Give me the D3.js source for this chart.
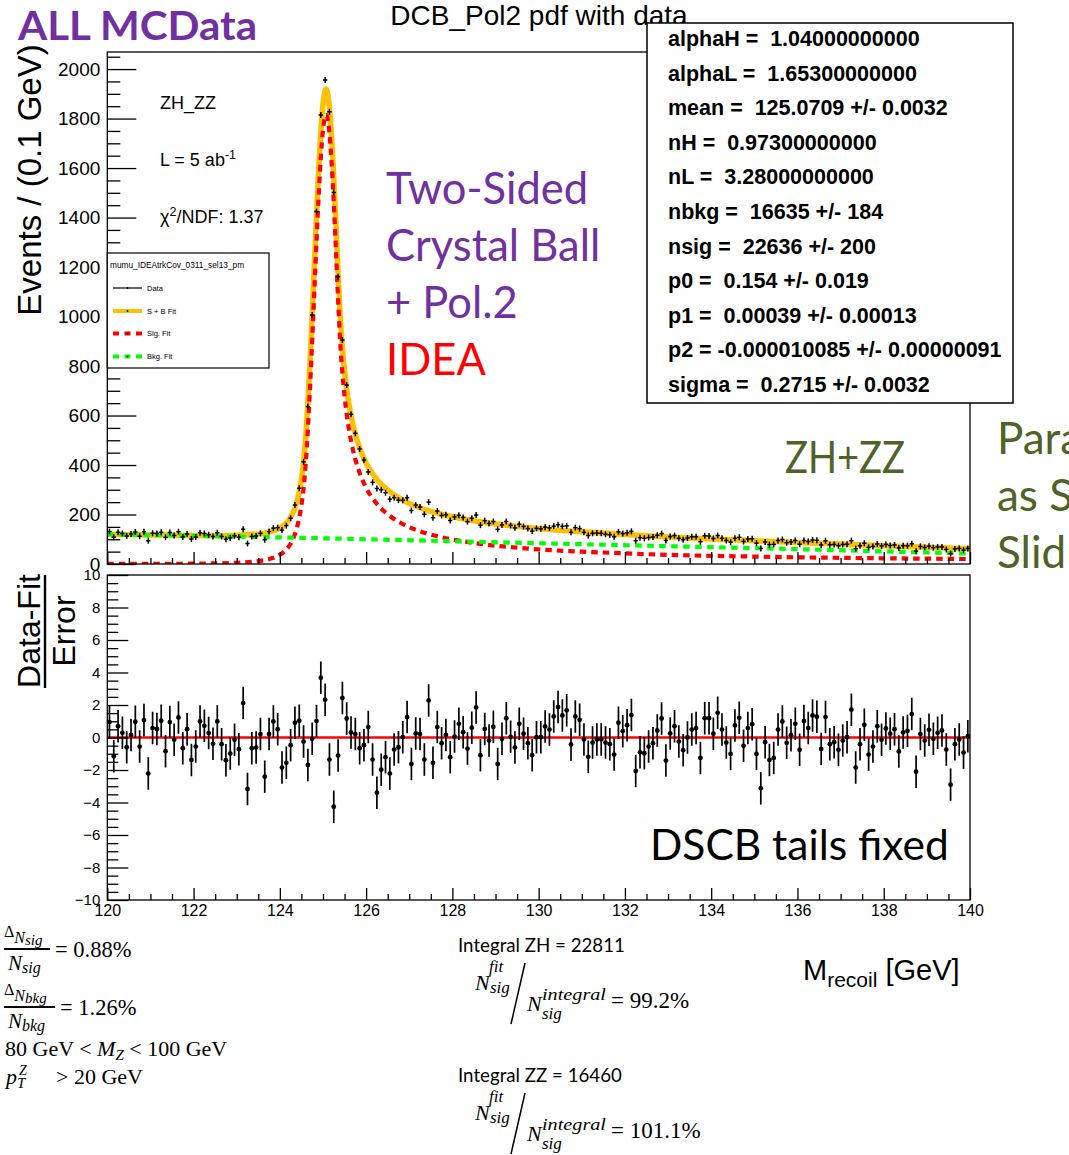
<!DOCTYPE html>
<html>
<head>
<meta charset="utf-8">
<script src="https://cdn.jsdelivr.net/npm/d3@7"></script>
<style>
  body { margin: 0; background: #fff; }
  svg { display: block; }
  text { white-space: pre; }
</style>
</head>
<body>
<svg id="chart" width="1069" height="1155"></svg>
<script>
// ---- binning of the recoil-mass histogram (0.1 GeV bins, 120-140 GeV) ----
const massRange = [120, 140];
const binWidth = 0.1;

// events per bin (bin 120.0-120.1 first)
const counts = [
  131,108,128,123,113,121,129,112,130,94,
  124,123,128,108,127,115,130,109,121,101,
  109,126,123,118,111,126,111,100,105,114,
  108,140,83,111,113,124,98,131,145,147,
  137,155,185,238,306,413,636,1006,1424,1814,
  1956,1828,1501,1161,905,723,605,528,465,420,
  372,330,305,300,288,262,268,258,258,268,
  216,238,230,201,250,187,214,196,199,176,
  190,197,188,171,185,198,157,175,164,172,
  140,158,172,156,146,161,152,143,133,144,
  142,149,146,153,159,152,154,128,147,143,
  128,115,124,125,124,120,118,110,130,123,
  126,132,94,106,104,107,109,116,123,95,
  111,115,104,98,105,110,110,90,114,113,
  103,115,104,95,88,104,108,91,101,102,
  84,63,89,78,79,95,99,86,89,95,
  80,95,91,97,96,77,94,78,79,74,
  79,80,94,62,74,84,67,71,81,73,
  79,75,77,65,74,74,82,52,71,67,
  72,66,69,69,59,42,61,63,56,63
];

// (data - fit) / error per bin
const pulls = [
  0.95,-1.15,0.70,0.29,-0.60,0.16,0.97,-0.56,1.07,-2.22,
  0.58,0.53,1.03,-0.84,0.95,-0.14,1.23,-0.66,0.51,-1.38,
  -0.56,0.99,0.72,0.27,-0.39,0.99,-0.41,-1.40,-0.99,-0.14,
  -0.72,2.12,-3.17,-0.66,-0.62,0.21,-2.41,0.21,0.99,0.51,
  -1.85,-1.56,-0.47,0.91,1.03,-0.25,-1.69,-0.08,1.01,3.68,
  2.33,-1.36,-4.26,-1.11,2.43,1.17,0.31,0.21,-0.66,-0.47,
  0.64,-1.36,-3.40,-1.98,-1.21,-2.22,-0.74,-0.60,0.02,1.26,
  -1.63,0.25,0.21,-1.36,2.28,-1.56,0.64,-0.35,0.16,-1.21,
  0.06,0.84,0.33,-0.68,0.60,1.85,-1.09,0.53,-0.19,0.66,
  -1.63,-0.08,1.19,0.04,-0.62,0.84,0.23,-0.35,-1.09,0.02,
  0.02,0.68,0.49,1.30,1.87,1.36,1.67,-0.43,1.30,1.09,
  -0.12,-1.19,-0.31,-0.12,-0.12,-0.31,-0.41,-1.05,0.91,0.39,
  0.76,1.38,-2.06,-0.91,-0.97,-0.56,-0.35,0.43,1.17,-1.42,
  0.25,0.70,-0.25,-0.78,0.00,0.49,0.58,-1.26,1.19,1.19,
  0.23,1.52,0.49,-0.31,-1.01,0.74,1.21,-0.51,0.58,0.82,
  -1.01,-3.13,-0.29,-1.38,-1.26,0.49,0.99,-0.33,0.14,0.84,
  -0.76,1.01,0.58,1.36,1.28,-0.70,1.26,-0.41,-0.29,-0.76,
  -0.19,0.02,1.71,-1.85,-0.41,0.78,-1.05,-0.56,0.70,-0.14,
  0.56,0.23,0.51,-0.86,0.31,0.41,1.44,-2.10,0.21,-0.19,
  0.47,-0.08,0.29,0.43,-0.74,-2.90,-0.41,-0.12,-0.93,0.08
];

// fitted model curves, sampled along the mass axis
const fitMass = [120,121,122,122.5,123,123.5,123.75,124,124.1,124.2,124.3,124.35,124.4,124.45,124.5,
  124.55,124.6,124.65,124.7,124.75,124.8,124.85,124.9,124.95,125,125.05,125.07,125.1,125.15,125.2,
  125.25,125.3,125.35,125.4,125.45,125.5,125.55,125.6,125.65,125.75,125.85,126,126.25,126.5,126.75,
  127,127.5,128,128.5,129,129.5,130,131,132,133,134,135,136,137,138,139,140];
const sigFit = [0.3,0.6,1.4,2.5,4.8,11.5,19.7,37,50,69,99,121,149,186,237,
  306,405,545,713,904,1103,1303,1489,1643,1754,1810,1815,1805,1740,1621,
  1461,1272,1071,896,772,678,605,546,498,423,368,308,243,201,171,
  149,119,99,85,74,66,59,50,43,37,33,30,27,25,23,21.5,20];
const totalFit = [120.3,117.6,115.4,114.3,116.6,121.7,129,144.5,157,175.8,205.5,227,255,292,343,
  412,511,651,818,1009,1208,1408,1594,1748,1858,1914,1919,1909,1844,1725,
  1565,1376,1175,999,875,781,707,648,600,525,469,408,342,299,268,
  245,213,191,175,162,152,143,130,119,109,101,94,87,80.5,74,68,62];
const bkgMass = [120,122,124,126,128,130,132,134,136,138,140];
const bkgFit = [120,114,107.5,100,92,84,76,68,60,51,42];

// axis ticks
const topYTicks = [0,200,400,600,800,1000,1200,1400,1600,1800,2000];
const resYTicks = [-10,-8,-6,-4,-2,0,2,4,6,8,10];
const massTicks = [120,122,124,126,128,130,132,134,136,138,140];

// fit parameters box
const paramLines = [
  "alphaH =  1.04000000000",
  "alphaL =  1.65300000000",
  "mean =  125.0709 +/- 0.0032",
  "nH =  0.97300000000",
  "nL =  3.28000000000",
  "nbkg =  16635 +/- 184",
  "nsig =  22636 +/- 200",
  "p0 =  0.154 +/- 0.019",
  "p1 =  0.00039 +/- 0.00013",
  "p2 = -0.000010085 +/- 0.00000091",
  "sigma =  0.2715 +/- 0.0032"
];
const legendEntries = ["Data", "S + B Fit", "Sig. Fit", "Bkg. Fit"];

// ---------------------------------------------------------------------
const svg = d3.select("#chart");
const HELV = "'Liberation Sans', Arial, Helvetica, sans-serif";
const CAL = "Lato, 'Open Sans', sans-serif";
const MATH = "'Liberation Serif', 'DejaVu Serif', serif";

const frame = { left: 107.3, right: 970 };
const topPad = { top: 52, bottom: 564 };
const resPad = { top: 575, bottom: 900 };

const x = d3.scaleLinear().domain(massRange).range([frame.left, frame.right]);
const yTop = d3.scaleLinear().domain([0, 2069]).range([topPad.bottom, topPad.top]);
const yRes = d3.scaleLinear().domain([-10, 10]).range([resPad.bottom, resPad.top]);

const binCenters = counts.map((_, i) => massRange[0] + binWidth * (i + 0.5));

// clip regions
const defs = svg.append("defs");
defs.append("clipPath").attr("id", "clipTop").append("rect")
  .attr("x", frame.left).attr("y", topPad.top)
  .attr("width", frame.right - frame.left).attr("height", topPad.bottom - topPad.top);
defs.append("clipPath").attr("id", "clipRes").append("rect")
  .attr("x", frame.left).attr("y", resPad.top)
  .attr("width", frame.right - frame.left).attr("height", resPad.bottom - resPad.top);

// ---------------- upper pad ----------------
svg.append("text").attr("x", 539).attr("y", 25)
  .attr("text-anchor", "middle").attr("font-family", HELV).attr("font-size", 28)
  .text("DCB_Pol2 pdf with data");

const upper = svg.append("g");
const curves = upper.append("g").attr("clip-path", "url(#clipTop)");
const line = d3.line().x(d => x(d[0])).y(d => yTop(d[1])).curve(d3.curveMonotoneX);

curves.append("path").datum(d3.zip(fitMass, totalFit))
  .attr("d", line).attr("fill", "none").attr("stroke", "#FFC000").attr("stroke-width", 5.5);
curves.append("path").datum(d3.zip(fitMass, sigFit))
  .attr("d", line).attr("fill", "none").attr("stroke", "#FF0000").attr("stroke-width", 4.2)
  .attr("stroke-dasharray", "6.5,5");
curves.append("path").datum(d3.zip(bkgMass, bkgFit))
  .attr("d", line.curve(d3.curveNatural)).attr("fill", "none").attr("stroke", "#00FF00").attr("stroke-width", 4.2)
  .attr("stroke-dasharray", "6.5,5.5");

// data points: cross markers spanning the bin width
const markerHalf = 3;
const pts = curves.append("g").attr("stroke", "#000").attr("stroke-width", 1.5);
pts.selectAll("line.v").data(counts).join("line").attr("class", "v")
  .attr("x1", (d, i) => x(binCenters[i])).attr("x2", (d, i) => x(binCenters[i]))
  .attr("y1", d => yTop(d) - markerHalf).attr("y2", d => yTop(d) + markerHalf);
pts.selectAll("line.h").data(counts).join("line").attr("class", "h")
  .attr("x1", (d, i) => x(binCenters[i] - binWidth / 2)).attr("x2", (d, i) => x(binCenters[i] + binWidth / 2))
  .attr("y1", d => yTop(d)).attr("y2", d => yTop(d));

// frame + axes
upper.append("rect").attr("x", frame.left).attr("y", topPad.top)
  .attr("width", frame.right - frame.left).attr("height", topPad.bottom - topPad.top)
  .attr("fill", "none").attr("stroke", "#000").attr("stroke-width", 1.3);

function styleAxis(g, size) {
  g.select(".domain").remove();
  g.selectAll("line").attr("stroke", "#000").attr("stroke-width", 1.3);
  g.selectAll("text").attr("font-family", HELV).attr("font-size", size).attr("fill", "#000");
}
const minorTopY = d3.range(0, 2051, 50).filter(v => v % 200 !== 0);
upper.append("g").attr("transform", `translate(${frame.left},0)`)
  .call(d3.axisLeft(yTop).tickValues(minorTopY).tickSize(-13).tickFormat(""))
  .call(g => styleAxis(g, 19));
upper.append("g").attr("transform", `translate(${frame.left},0)`)
  .call(d3.axisLeft(yTop).tickValues(topYTicks).tickSize(-29).tickPadding(7).tickFormat(d3.format("d")))
  .call(g => styleAxis(g, 19));

const minorMass = d3.range(120, 140.01, 0.5).filter(v => v % 2 !== 0);
upper.append("g").attr("transform", `translate(0,${topPad.bottom})`)
  .call(d3.axisBottom(x).tickValues(minorMass).tickSize(-6).tickFormat(""))
  .call(g => styleAxis(g, 16));
upper.append("g").attr("transform", `translate(0,${topPad.bottom})`)
  .call(d3.axisBottom(x).tickValues(massTicks).tickSize(-12).tickFormat(""))
  .call(g => styleAxis(g, 16));

// y-axis title
svg.append("text").attr("transform", "translate(41,180) rotate(-90)")
  .attr("text-anchor", "middle").attr("font-family", HELV).attr("font-size", 33)
  .text("Events / (0.1 GeV)");

// annotations inside the upper pad
const ann = svg.append("g").attr("font-family", HELV).attr("font-size", 18).attr("fill", "#000");
ann.append("text").attr("x", 160).attr("y", 109).text("ZH_ZZ");
const lumi = ann.append("text").attr("x", 160).attr("y", 166);
lumi.append("tspan").text("L = 5 ab");
lumi.append("tspan").attr("dy", -7).attr("font-size", 12.5).text("-1");
const chi = ann.append("text").attr("x", 160).attr("y", 223);
chi.append("tspan").text("\u03C7");
chi.append("tspan").attr("dy", -7).attr("font-size", 12.5).text("2");
chi.append("tspan").attr("dy", 7).text("/NDF: 1.37");

// legend
const leg = svg.append("g");
leg.append("rect").attr("x", 107.3).attr("y", 253).attr("width", 161.7).attr("height", 115)
  .attr("fill", "#fff").attr("stroke", "#000").attr("stroke-width", 1.2);
leg.append("text").attr("x", 110).attr("y", 268).attr("font-family", HELV).attr("font-size", 8.3)
  .text("mumu_IDEAtrkCov_0311_sel13_pm");
const legRows = [288, 311, 333.5, 356.5];
const legStyles = [
  { stroke: "#000", width: 1.2, dash: null },
  { stroke: "#FFC000", width: 4, dash: null },
  { stroke: "#FF0000", width: 3.8, dash: "6,5.5" },
  { stroke: "#00FF00", width: 3.8, dash: "6,5.5" }
];
legendEntries.forEach((name, i) => {
  const s = legStyles[i];
  leg.append("line").attr("x1", 113).attr("x2", 142).attr("y1", legRows[i]).attr("y2", legRows[i])
    .attr("stroke", s.stroke).attr("stroke-width", s.width).attr("stroke-dasharray", s.dash);
  leg.append("circle").attr("cx", 127.5).attr("cy", legRows[i]).attr("r", 0.9).attr("fill", "#000");
  leg.append("text").attr("x", 147).attr("y", legRows[i] + 2.6).attr("font-family", HELV)
    .attr("font-size", 7.5).text(name);
});

// fit parameter box
const box = svg.append("g");
box.append("rect").attr("x", 647).attr("y", 23).attr("width", 366).attr("height", 380)
  .attr("fill", "#fff").attr("stroke", "#000").attr("stroke-width", 1.5);
paramLines.forEach((s, i) => {
  box.append("text").attr("x", 668).attr("y", 46 + i * 34.6)
    .attr("font-family", HELV).attr("font-weight", "bold").attr("font-size", 21.5).text(s);
});

// slide annotations
const notes = svg.append("g").attr("font-family", CAL);
notes.append("text").attr("x", 18).attr("y", 40).attr("font-size", 40).attr("font-weight", "bold")
  .attr("textLength", 239).attr("lengthAdjust", "spacingAndGlyphs")
  .attr("fill", "#7030A0").text("ALL MCData");
["Two-Sided", "Crystal Ball", "+ Pol.2"].forEach((s, i) => {
  notes.append("text").attr("x", 386).attr("y", 204 + i * 57).attr("font-size", 43.5)
    .attr("fill", "#7030A0").text(s);
});
notes.append("text").attr("x", 386).attr("y", 375).attr("font-size", 43.5).attr("fill", "#FF0000").text("IDEA");
notes.append("text").attr("x", 785).attr("y", 473).attr("font-size", 44)
  .attr("textLength", 120).attr("lengthAdjust", "spacingAndGlyphs")
  .attr("fill", "#4F6228").text("ZH+ZZ");
["Para", "as S", "Slid"].forEach((s, i) => {
  notes.append("text").attr("x", 997).attr("y", 454 + i * 57).attr("font-size", 44)
    .attr("fill", "#4F6228").text(s);
});

// ---------------- residual pad ----------------
const res = svg.append("g");
const resInner = res.append("g").attr("clip-path", "url(#clipRes)");
resInner.append("line").attr("x1", frame.left).attr("x2", frame.right)
  .attr("y1", yRes(0)).attr("y2", yRes(0)).attr("stroke", "#FF0000").attr("stroke-width", 2.6);
resInner.selectAll("line.err").data(pulls).join("line").attr("class", "err")
  .attr("x1", (d, i) => x(binCenters[i])).attr("x2", (d, i) => x(binCenters[i]))
  .attr("y1", d => yRes(d - 1)).attr("y2", d => yRes(d + 1))
  .attr("stroke", "#000").attr("stroke-width", 1.7);
resInner.selectAll("circle").data(pulls).join("circle")
  .attr("cx", (d, i) => x(binCenters[i])).attr("cy", d => yRes(d)).attr("r", 2.4).attr("fill", "#000");

res.append("rect").attr("x", frame.left).attr("y", resPad.top)
  .attr("width", frame.right - frame.left).attr("height", resPad.bottom - resPad.top)
  .attr("fill", "none").attr("stroke", "#000").attr("stroke-width", 1.3);

const minorResY = d3.range(-10, 10.01, 0.5).filter(v => v % 2 !== 0);
res.append("g").attr("transform", `translate(${frame.left},0)`)
  .call(d3.axisLeft(yRes).tickValues(minorResY).tickSize(-11).tickFormat(""))
  .call(g => styleAxis(g, 15));
res.append("g").attr("transform", `translate(${frame.left},0)`)
  .call(d3.axisLeft(yRes).tickValues(resYTicks).tickSize(-21).tickPadding(7))
  .call(g => styleAxis(g, 15));
res.append("g").attr("transform", `translate(0,${resPad.bottom})`)
  .call(d3.axisBottom(x).tickValues(minorMass).tickSize(-6).tickFormat(""))
  .call(g => styleAxis(g, 16));
res.append("g").attr("transform", `translate(0,${resPad.bottom})`)
  .call(d3.axisBottom(x).tickValues(massTicks).tickSize(-12).tickPadding(5).tickFormat(d3.format("d")))
  .call(g => styleAxis(g, 16));

// pull axis title: fraction Data-Fit over Error
const pullTitle = svg.append("g").attr("font-family", HELV).attr("font-size", 32);
pullTitle.append("text").attr("transform", "translate(40,631) rotate(-90)").attr("text-anchor", "middle").text("Data-Fit");
pullTitle.append("line").attr("x1", 45).attr("x2", 45).attr("y1", 575).attr("y2", 688)
  .attr("stroke", "#000").attr("stroke-width", 2.4);
pullTitle.append("text").attr("transform", "translate(75,631) rotate(-90)").attr("text-anchor", "middle").text("Error");

// x-axis title
const xt = svg.append("text").attr("x", 803).attr("y", 980).attr("font-family", HELV).attr("font-size", 29);
xt.append("tspan").text("M");
xt.append("tspan").attr("dy", 7).attr("font-size", 21).text("recoil");
xt.append("tspan").attr("dy", -7).text(" [GeV]");

notes.append("text").attr("x", 650).attr("y", 860).attr("font-size", 42.5).attr("fill", "#000").text("DSCB tails fixed");

// ---------------- summary formulas below the plot ----------------
const m = svg.append("g").attr("font-family", MATH).attr("fill", "#000");
function ratioBlock(dy, label, value, barEnd) {
  const num = m.append("text").attr("x", 4).attr("y", 937 + dy).attr("font-size", 16);
  num.append("tspan").text("\u0394");
  num.append("tspan").attr("dy", 6).attr("font-size", 16).attr("font-style", "italic").text("N");
  num.append("tspan").attr("dy", 2).attr("font-size", 15).attr("font-style", "italic").text(label);
  m.append("line").attr("x1", 4).attr("x2", barEnd).attr("y1", 949 + dy).attr("y2", 949 + dy)
    .attr("stroke", "#000").attr("stroke-width", 2.2);
  const den = m.append("text").attr("x", 8).attr("y", 970 + dy).attr("font-size", 21);
  den.append("tspan").attr("font-style", "italic").text("N");
  den.append("tspan").attr("dy", 3).attr("font-size", 16).attr("font-style", "italic").text(label);
  m.append("text").attr("x", barEnd + 5).attr("y", 957 + dy).attr("font-size", 22.5).text("= " + value);
}
ratioBlock(0, "sig", "0.88%", 50);
ratioBlock(58, "bkg", "1.26%", 55);
const mz = m.append("text").attr("x", 5).attr("y", 1056).attr("font-size", 22);
mz.append("tspan").text("80 GeV < ");
mz.append("tspan").attr("font-style", "italic").text("M");
mz.append("tspan").attr("dy", 4).attr("font-size", 15).attr("font-style", "italic").text("Z");
mz.append("tspan").attr("dy", -4).text(" < 100 GeV");
const pt = m.append("text").attr("x", 6).attr("y", 1084).attr("font-size", 22);
pt.append("tspan").attr("font-style", "italic").text("p");
pt.append("tspan").attr("dy", 4).attr("font-size", 15).attr("font-style", "italic").text("T");
pt.append("tspan").attr("x", 19).attr("dy", -13).attr("font-size", 14).attr("font-style", "italic").text("Z");
pt.append("tspan").attr("x", 56).attr("dy", 9).text("> 20 GeV");

function integralBlock(dy, name, total, ratio) {
  svg.append("text").attr("x", 458).attr("y", 952 + dy).attr("font-family", CAL).attr("font-size", 18.7)
    .text(`Integral ${name} = ${total}`);
  const it = m.append("g").attr("font-style", "italic");
  it.append("text").attr("x", 475).attr("y", 990 + dy).attr("font-size", 22).text("N");
  it.append("text").attr("x", 489).attr("y", 972 + dy).attr("font-size", 17).text("fit");
  it.append("text").attr("x", 490).attr("y", 993 + dy).attr("font-size", 17).text("sig");
  m.append("line").attr("x1", 525).attr("y1", 963 + dy).attr("x2", 511).attr("y2", 1024 + dy)
    .attr("stroke", "#000").attr("stroke-width", 1.5);
  it.append("text").attr("x", 527).attr("y", 1011 + dy).attr("font-size", 22).text("N");
  it.append("text").attr("x", 542).attr("y", 1000 + dy).attr("font-size", 17)
    .attr("textLength", 64).attr("lengthAdjust", "spacingAndGlyphs").text("integral");
  it.append("text").attr("x", 542).attr("y", 1019 + dy).attr("font-size", 17).text("sig");
  m.append("text").attr("x", 611).attr("y", 1008 + dy).attr("font-size", 23).text("= " + ratio);
}
integralBlock(0, "ZH", 22811, "99.2%");
integralBlock(130, "ZZ", 16460, "101.1%");
</script>
</body>
</html>
